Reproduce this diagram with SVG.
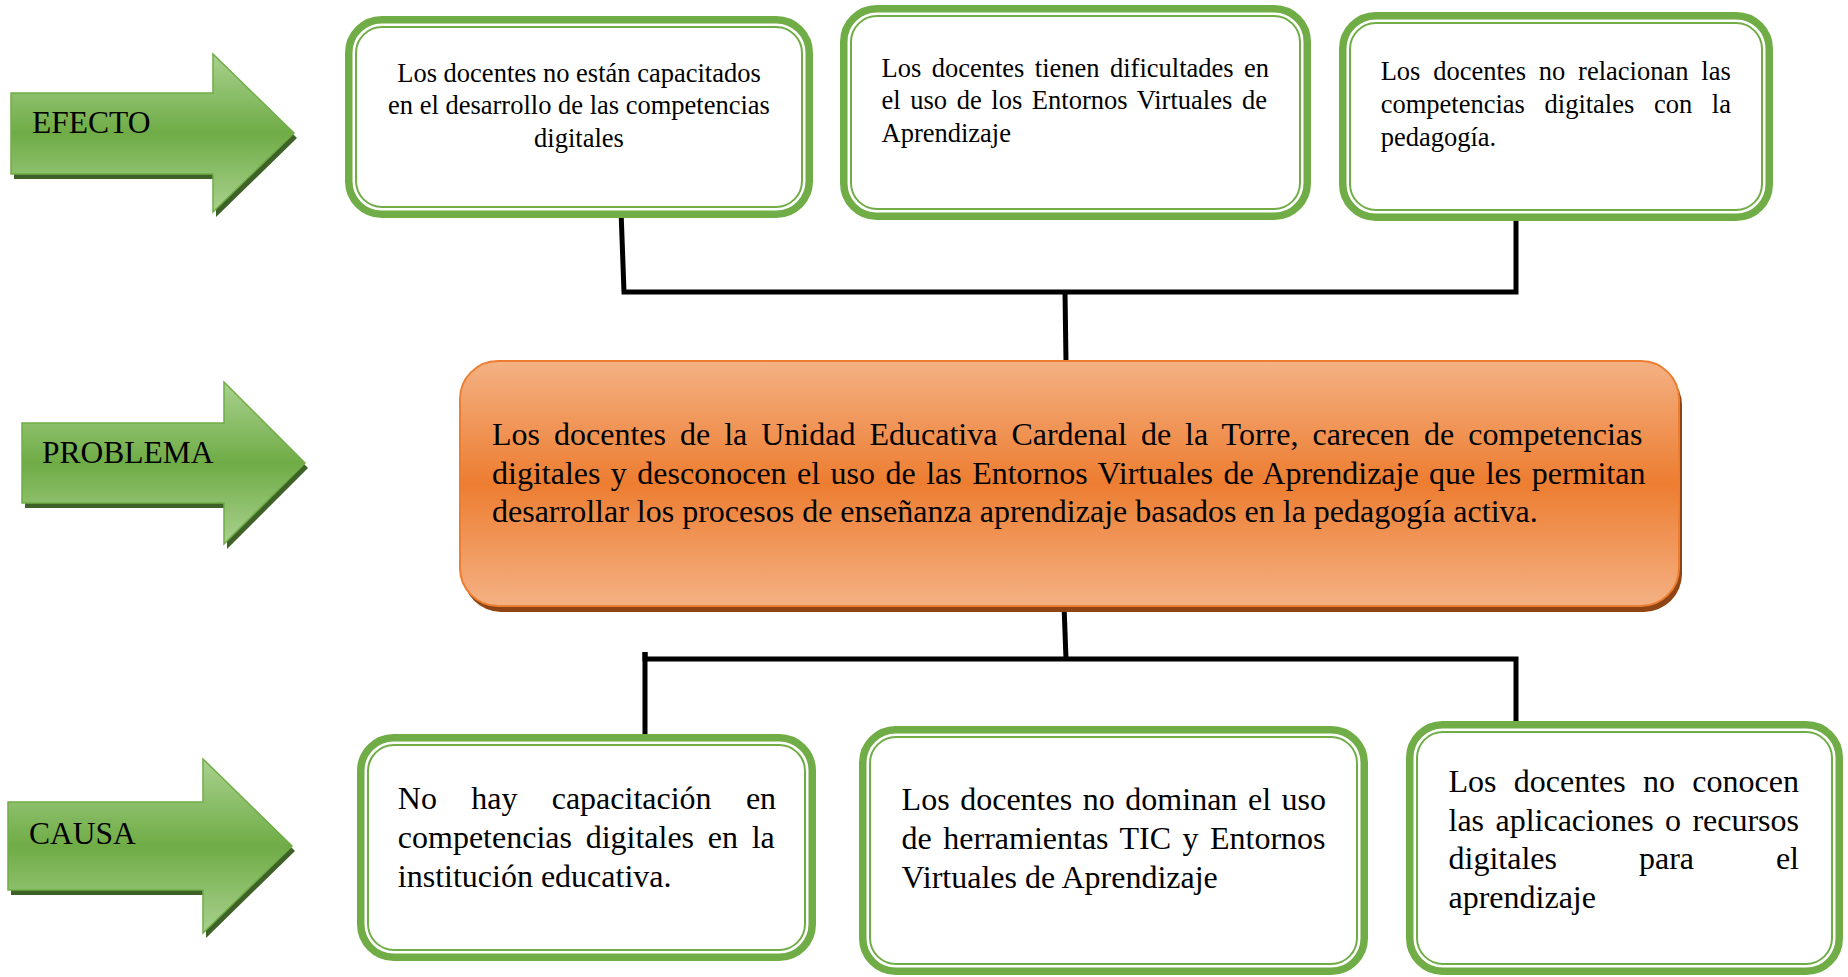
<svg xmlns="http://www.w3.org/2000/svg" width="1848" height="977" viewBox="0 0 1848 977">
<defs>
<linearGradient id="gArrow" x1="0" y1="0" x2="0" y2="1">
<stop offset="0" stop-color="#A9D18E"/>
<stop offset="0.5" stop-color="#6FAC46"/>
<stop offset="1" stop-color="#A9D18E"/>
</linearGradient>
<linearGradient id="gOrange" x1="0" y1="0" x2="0" y2="1">
<stop offset="0" stop-color="#F4B183"/>
<stop offset="0.5" stop-color="#ED7D31"/>
<stop offset="1" stop-color="#F4B183"/>
</linearGradient>
</defs>
<style>
text{font-family:"Liberation Serif","Times New Roman",serif;fill:#000}
.lbl{font-size:31.5px}
.s{font-size:26.5px}
.b{font-size:32px}
.arrow{fill:url(#gArrow);stroke:#70AD47;stroke-width:1.5}
.ashadow{fill:#3D6126}
.outer{fill:#fff;stroke:#70AD47;stroke-width:7.5}
.inner{fill:none;stroke:#70AD47;stroke-width:2}
.conn{fill:none;stroke:#000;stroke-width:5}
</style>
<rect width="1848" height="977" fill="#fff"/>

<g id="label-efecto">
<polygon class="ashadow" points="14,98 216,98 216,59 297,138 216,217 216,179 14,179"/>
<polygon class="arrow" points="11,93 213,93 213,54 294,133 213,212 213,174 11,174"/>
<text class="lbl" x="32" y="133">EFECTO</text>
</g>
<g id="label-problema">
<polygon class="ashadow" points="25,428 227,428 227,387 308,468 227,549 227,508 25,508"/>
<polygon class="arrow" points="22,423 224,423 224,382 305,463 224,544 224,503 22,503"/>
<text class="lbl" x="42" y="463">PROBLEMA</text>
</g>
<g id="label-causa">
<polygon class="ashadow" points="11,807 206,807 206,764 295,851 206,938 206,895 11,895"/>
<polygon class="arrow" points="8,802 203,802 203,759 292,846 203,933 203,890 8,890"/>
<text class="lbl" x="29" y="844">CAUSA</text>
</g>

<g id="connectors">
<polyline class="conn" points="621,210 624,292 1516,292 1516,215"/>
<line class="conn" x1="1065" y1="292" x2="1066" y2="362"/>
<line class="conn" x1="1064" y1="605" x2="1066" y2="659"/>
<polyline class="conn" points="645,652 645,659 1516,659 1516,733"/>
<line class="conn" x1="645" y1="652" x2="645" y2="741"/>
</g>

<g id="efecto-1">
<rect class="outer" x="348.75" y="19.75" width="460.5" height="194.5" rx="33"/>
<rect class="inner" x="356" y="27" width="446" height="180" rx="26"/>
<text class="s" text-anchor="middle" x="579" y="81.5">Los docentes no están capacitados</text>
<text class="s" text-anchor="middle" x="579" y="114">en el desarrollo de las competencias</text>
<text class="s" text-anchor="middle" x="579" y="146.5">digitales</text>
</g>
<g id="efecto-2">
<rect class="outer" x="843.75" y="8.75" width="463.5" height="207.5" rx="33"/>
<rect class="inner" x="851" y="16" width="449" height="193" rx="26"/>
<text class="s" x="881.5" y="76.5" word-spacing="3.8">Los docentes tienen dificultades en</text>
<text class="s" x="881.5" y="109" word-spacing="3">el uso de los Entornos Virtuales de</text>
<text class="s" x="881.5" y="141.5">Aprendizaje</text>
</g>
<g id="efecto-3">
<rect class="outer" x="1342.75" y="15.75" width="426.5" height="201.5" rx="33"/>
<rect class="inner" x="1350" y="23" width="412" height="187" rx="26"/>
<text class="s" x="1380.7" y="80" word-spacing="6.2">Los docentes no relacionan las</text>
<text class="s" x="1380.7" y="113" word-spacing="13">competencias digitales con la</text>
<text class="s" x="1380.7" y="145.5">pedagogía.</text>
</g>

<g id="problema">
<rect x="463" y="367" width="1219" height="245" rx="38" fill="#8E4414"/>
<rect x="460" y="361" width="1219" height="245" rx="38" fill="url(#gOrange)" stroke="#ED7D31" stroke-width="2"/>
<text class="b" x="492" y="445" word-spacing="6.0">Los docentes de la Unidad Educativa Cardenal de la Torre, carecen de competencias</text>
<text class="b" x="492" y="483.5" word-spacing="2.45">digitales y desconocen el uso de las Entornos Virtuales de Aprendizaje que les permitan</text>
<text class="b" x="492" y="522">desarrollar los procesos de enseñanza aprendizaje basados en la pedagogía activa.</text>
</g>

<g id="causa-1">
<rect class="outer" x="360.75" y="737.75" width="451.5" height="219.5" rx="33"/>
<rect class="inner" x="368" y="745" width="437" height="205" rx="26"/>
<text class="b" x="397.8" y="808.5" word-spacing="26.3">No hay capacitación en</text>
<text class="b" x="397.8" y="847.5" word-spacing="5.7">competencias digitales en la</text>
<text class="b" x="397.8" y="886.5">institución educativa.</text>
</g>
<g id="causa-2">
<rect class="outer" x="862.75" y="729.75" width="501.5" height="241.5" rx="33"/>
<rect class="inner" x="870" y="737" width="487" height="227" rx="26"/>
<text class="b" x="901.6" y="810" word-spacing="2.6">Los docentes no dominan el uso</text>
<text class="b" x="901.6" y="849" word-spacing="3.5">de herramientas TIC y Entornos</text>
<text class="b" x="901.6" y="888">Virtuales de Aprendizaje</text>
</g>
<g id="causa-3">
<rect class="outer" x="1409.75" y="724.75" width="429.5" height="246.5" rx="33"/>
<rect class="inner" x="1417" y="732" width="415" height="232" rx="26"/>
<text class="b" x="1448.5" y="792" word-spacing="9.3">Los docentes no conocen</text>
<text class="b" x="1448.5" y="830.5" word-spacing="3.4">las aplicaciones o recursos</text>
<text class="b" x="1448.5" y="869">digitales</text>
<text class="b" x="1639" y="869">para</text>
<text class="b" x="1799" y="869" text-anchor="end">el</text>
<text class="b" x="1448.5" y="907.5">aprendizaje</text>
</g>
</svg>
